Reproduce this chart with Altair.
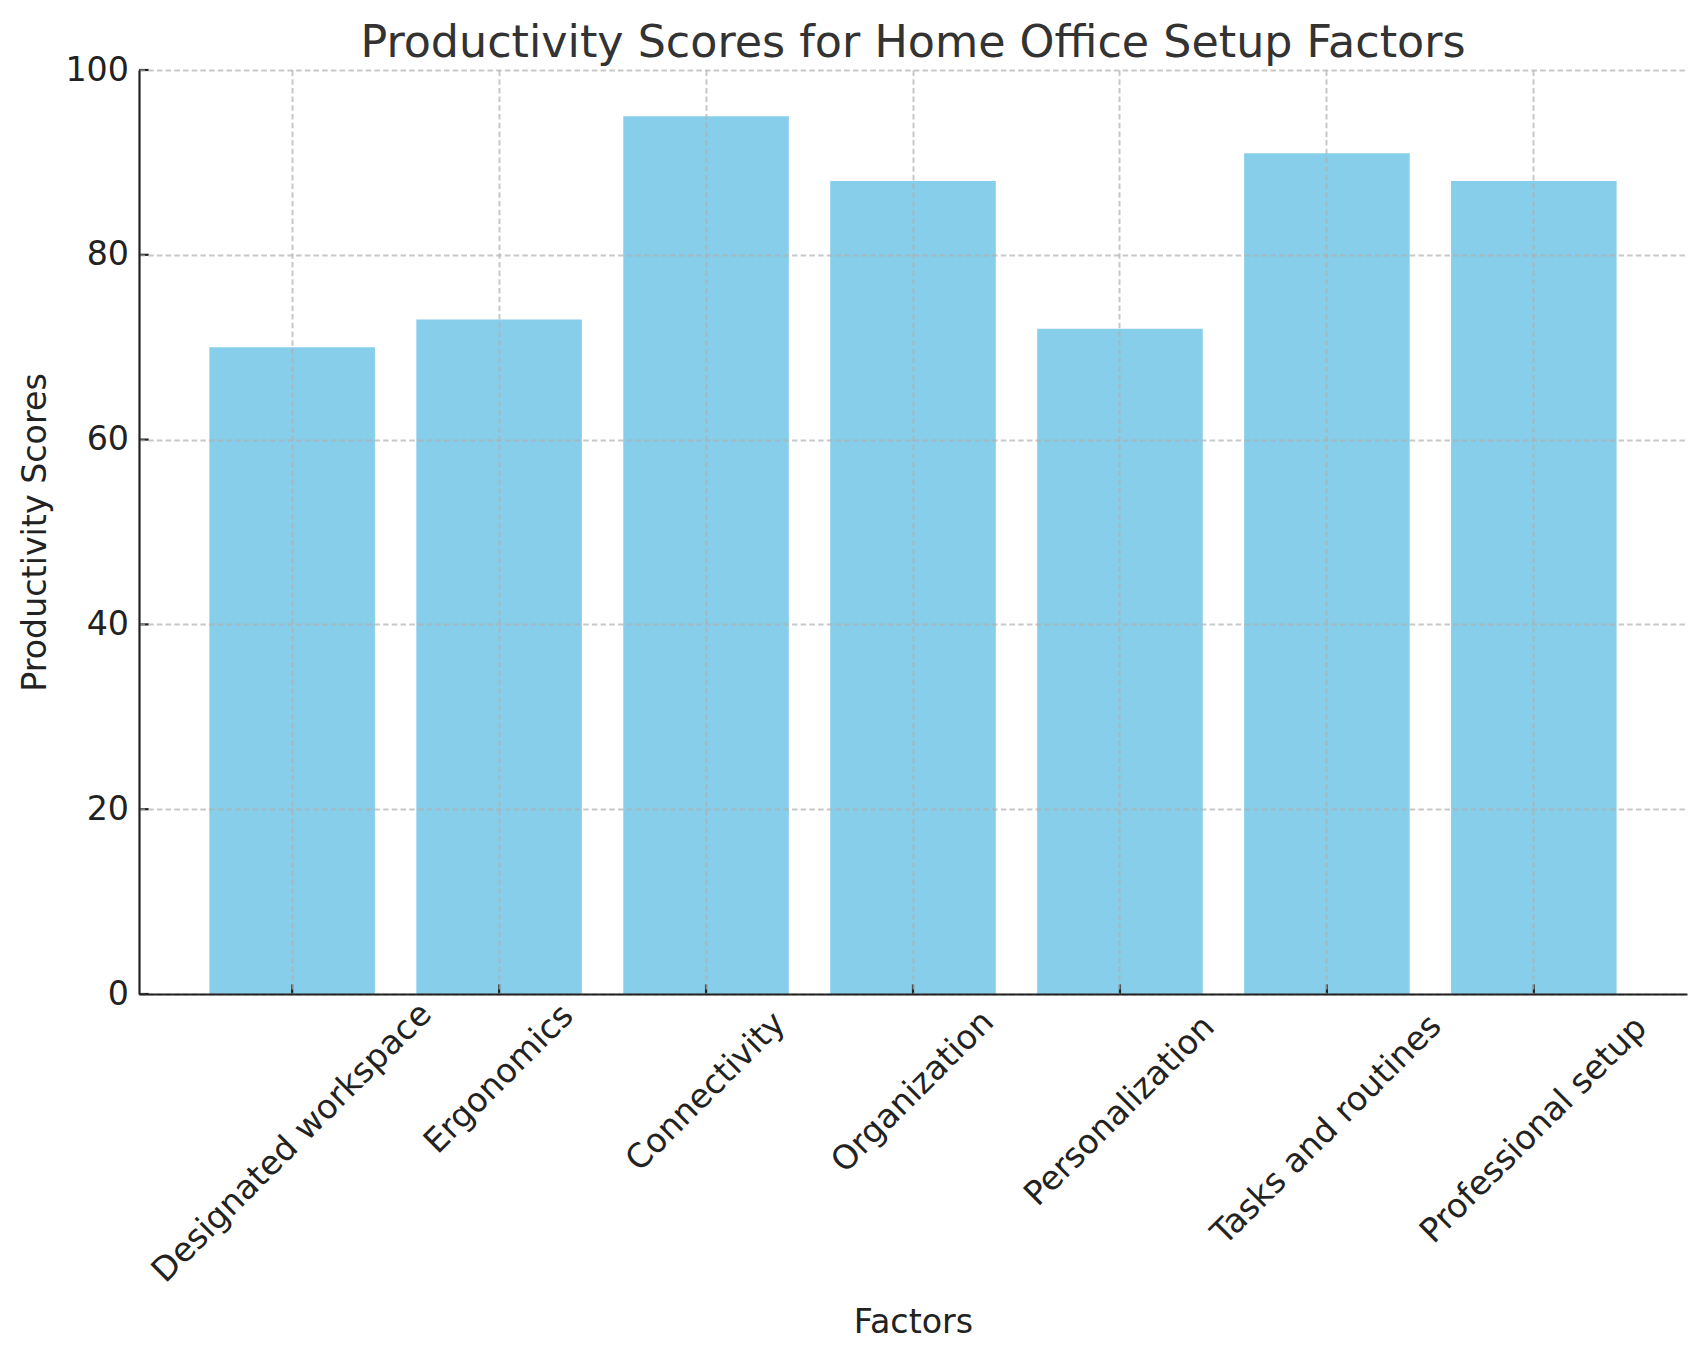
import altair as alt
import pandas as pd

factors = ["Designated workspace", "Ergonomics", "Connectivity", "Organization",
           "Personalization", "Tasks and routines", "Professional setup"]
scores = [70, 73, 95, 88, 72, 91, 88]
y_ticks = [0, 20, 40, 60, 80, 100]

chart_title = "Productivity Scores for Home Office Setup Factors"
x_title = "Factors"
y_title = "Productivity Scores"

W, H = 1548, 924
FONT = "DejaVu Sans"
FS = 33.3
DARK = "#222222"

df = pd.DataFrame({"Factor": factors, "Score": scores})
tick_df = pd.DataFrame({"v": y_ticks})

x_scale = alt.Scale(domain=factors, paddingInner=0.2, paddingOuter=0.34)
y_scale = alt.Scale(domain=[0, 100], nice=False, zero=True)

common = dict(grid=True, gridColor="#b0b0b0", gridOpacity=0.7, gridWidth=2,
              gridDash=[5.5, 3.2], domainColor=DARK, domainWidth=2.2, ticks=False,
              zindex=1, titleFont=FONT, titleFontSize=FS, titleFontWeight="normal",
              titleColor=DARK, labelFont=FONT, labelFontSize=FS, labelColor=DARK)

x_axis = alt.Axis(labels=False, title=x_title, titleY=338.7,
                  titleBaseline="alphabetic", **common)
y_axis = alt.Axis(values=y_ticks, title=y_title, titleX=-94, titleY=H / 2,
                  titleBaseline="alphabetic", labelPadding=10.5, **common)

bars = alt.Chart(df).mark_bar(color="#87CEEB").encode(
    x=alt.X("Factor:N", scale=x_scale, sort=factors, axis=x_axis),
    y=alt.Y("Score:Q", scale=y_scale, axis=y_axis),
)

xticks = alt.Chart(df).mark_rule(color=DARK, strokeWidth=2.2).encode(
    x=alt.X("Factor:N", scale=x_scale, sort=factors, axis=x_axis),
    y=alt.value(H),
    y2=alt.value(H - 9.7),
)

yticks = alt.Chart(tick_df).mark_rule(color=DARK, strokeWidth=2.2).encode(
    y=alt.Y("v:Q", scale=y_scale, axis=y_axis),
    x=alt.value(0),
    x2=alt.value(9.7),
)

labels = alt.Chart(df).transform_calculate(
    lab_y=f"-(9.7 + (length(datum.Factor) * 0.54 * {FS} + 34) / (2 * sqrt(2))) / ({H} / 100)"
).mark_text(angle=315, align="center", baseline="middle", font=FONT,
            fontSize=FS, color=DARK).encode(
    x=alt.X("Factor:N", scale=x_scale, sort=factors, axis=x_axis),
    y=alt.Y("lab_y:Q", scale=y_scale, axis=y_axis),
    text="Factor:N",
)

chart = alt.layer(bars, xticks, yticks, labels).properties(
    width=W, height=H,
    title=alt.TitleParams(chart_title, font=FONT, fontSize=44.4, fontWeight="normal",
                          color="#333333", anchor="middle", baseline="alphabetic",
                          offset=0, dy=48.6),
    padding={"left": 131, "top": 62, "right": 12, "bottom": 350},
    autosize=alt.AutoSizeParams(type="none"),
).configure_view(stroke=None)

chart.save("out.html", embed_options={"renderer": "svg", "actions": False})
